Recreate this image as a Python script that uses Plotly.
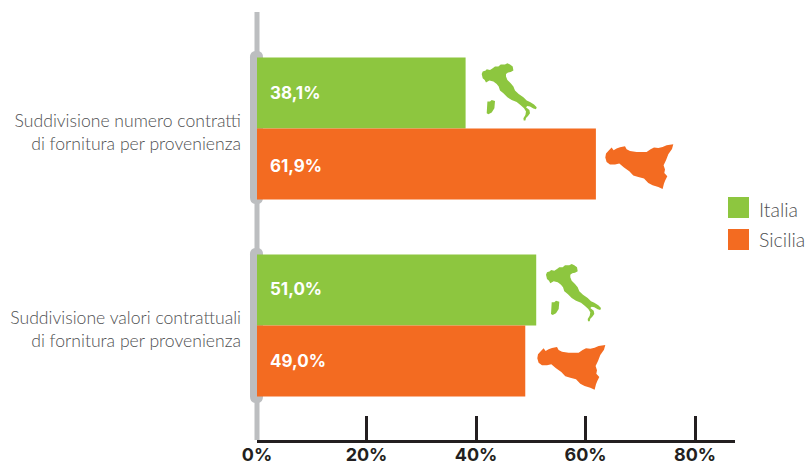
import plotly.graph_objects as go

# --- data ---
categories = ["Suddivisione numero contratti<br>di fornitura per provenienza",
              "Suddivisione valori contrattuali<br>di fornitura per provenienza"]
series_names = ["Italia", "Sicilia"]
italia_values = [38.1, 51.0]
sicilia_values = [61.9, 49.0]
tick_values = [0, 20, 40, 60, 80]
tick_labels = ["0%", "20%", "40%", "60%", "80%"]
value_labels_italia = ["38,1%", "51,0%"]
value_labels_sicilia = ["61,9%", "49,0%"]

# --- styles ---
GREEN, ORANGE, GREY, DARK, LABEL = "#8dc63f", "#f36b21", "#bcbec0", "#231f20", "#4f5052"
W, H = 805, 462
L, R, T, B = 257, 735, 12, 440
BOLD = "Inter"
LIGHT = "Lato"

# silhouettes, traced in px relative to an anchor
ITALY = [(35,72),(38,65),(47,62),(50,58),(60,60),(68,55),(75,50),(85,50),(92,44),(105,44),(112,40),(120,44),
         (128,50),(130,62),(122,66),(114,68),(108,72),(108,80),(112,90),(122,100),(130,110),(135,122),(146,132),
         (160,142),(170,152),(180,156),(192,164),(200,172),(198,178),(190,176),(180,170),(172,168),(168,172),
         (178,180),(180,190),(174,198),(168,204),(166,212),(161,212),(160,205),(166,195),(168,185),(162,175),
         (152,166),(140,156),(125,150),(112,142),(100,130),(90,122),(86,110),(80,102),(70,95),(58,92),(48,98),
         (44,90),(38,85)]
SARDINIA = [(52,155),(60,155),(65,150),(75,153),(73,175),(65,188),(55,193),(50,190)]
SICILY = [(406,322),(408,310),(415,302),(425,292),(431,300),(440,295),(450,291),(465,288),(470,297),(480,302),
          (500,305),(530,305),(542,297),(552,292),(565,293),(578,290),(590,285),(610,282),(606,296),(595,312),
          (588,330),(581,345),(585,358),(583,368),(592,378),(586,390),(582,400),(578,416),(565,410),(548,405),
          (535,398),(522,385),(505,380),(490,376),(478,363),(462,352),(448,340),(435,343),(420,343),(410,335)]


def outline(points, ox, oy):
    s = " ".join(("M" if i == 0 else "L") + f" {(x-ox)/3:.1f} {-(y-oy)/3:.1f}" for i, (x, y) in enumerate(points))
    return s + " Z"


def paper_x(px):
    return (px - L) / (R - L)


def paper_y(py):
    return (B - py) / (B - T)


def silhouette(paths, ax, ay, color):
    return dict(type="path", path=" ".join(paths), fillcolor=color, line=dict(width=0),
                xref="paper", yref="paper", xsizemode="pixel", ysizemode="pixel",
                xanchor=paper_x(ax), yanchor=paper_y(ay), layer="above")


def pill(top, bottom):
    r = 6.5
    h = bottom - top
    p = (f"M -6.5 {-r} Q -6.5 0 -1 0 L 1 0 Q 6.5 0 6.5 {-r} L 6.5 {-(h-r)} "
         f"Q 6.5 {-h} 1 {-h} L -1 {-h} Q -6.5 {-h} -6.5 {-(h-r)} Z")
    return dict(type="path", path=p, fillcolor=GREY, line=dict(width=0), xref="paper", yref="paper",
                xsizemode="pixel", ysizemode="pixel", xanchor=paper_x(256.5), yanchor=paper_y(top), layer="below")


# category centres sit 3.5 px below the seam between bars, so the two-line labels line up
STEP = 197
NUDGE = 3.5 / STEP
BAR = 0.36

fig = go.Figure()
fig.add_bar(name=series_names[0], y=categories, x=italia_values, orientation="h", marker_color=GREEN,
            marker_line_width=0, showlegend=False, width=BAR, offset=-BAR - NUDGE)
fig.add_bar(name=series_names[1], y=categories, x=sicilia_values, orientation="h", marker_color=ORANGE,
            marker_line_width=0, showlegend=False, width=BAR, offset=-NUDGE)

it = [outline(ITALY, 35, 40), outline(SARDINIA, 35, 40)]
si = [outline(SICILY, 406, 282)]
shapes = [
    dict(type="line", xref="paper", yref="paper", x0=paper_x(257), x1=paper_x(257), y0=paper_y(T), y1=0,
         line=dict(color=GREY, width=5), layer="below"),
    pill(51, 204), pill(248, 403),
    silhouette(it, 481.7, 63.3, GREEN),
    silhouette(si, 605.3, 144.3, ORANGE),
    silhouette(it, 546, 264, GREEN),
    silhouette(si, 537.3, 345, ORANGE),
    dict(type="rect", xref="paper", yref="paper", x0=paper_x(728), x1=paper_x(749), y0=paper_y(218), y1=paper_y(197),
         fillcolor=GREEN, line=dict(width=0)),
    dict(type="rect", xref="paper", yref="paper", x0=paper_x(728), x1=paper_x(749), y0=paper_y(250), y1=paper_y(229),
         fillcolor=ORANGE, line=dict(width=0)),
]

annotations = []
shifts = [(0, 2), (1, 0)]
for i, (a, b) in enumerate(zip(value_labels_italia, value_labels_sicilia)):
    for txt, off, dy in ((a, -BAR / 2 - NUDGE, shifts[i][0]), (b, BAR / 2 - NUDGE, shifts[i][1])):
        annotations.append(dict(x=0, y=i + off, xref="x", yref="y", text=txt, showarrow=False, xanchor="left",
                                xshift=11, yshift=-dy if i == 0 else dy,
                                font=dict(family=BOLD, size=17, color="white", weight=700)))
for name, py in zip(series_names, (209, 240)):
    annotations.append(dict(x=paper_x(759), y=paper_y(py), xref="paper", yref="paper", text=name, showarrow=False,
                            xanchor="left", xshift=-2, font=dict(family=LIGHT, size=19.5, color=LABEL, weight=300)))

fig.update_layout(
    width=W, height=H, autosize=False, paper_bgcolor="white", plot_bgcolor="rgba(0,0,0,0)",
    margin=dict(l=L, r=W - R, t=T, b=H - B, pad=0),
    shapes=shapes, annotations=annotations, showlegend=False,
    xaxis=dict(automargin=False, range=[0, (R - L) / 5.475], tickvals=tick_values, ticktext=tick_labels,
               ticks="inside", ticklen=24, ticklabelstandoff=-3,
               tickwidth=2.5, tickcolor=DARK, showline=True, linecolor=DARK, linewidth=2.5, showgrid=False,
               zeroline=False, tickfont=dict(family=BOLD, size=18, color=DARK, weight=700)),
    yaxis=dict(automargin=False, type="category", range=[(B - 132) / STEP, (T - 132) / STEP], showgrid=False,
               zeroline=False, showline=False, ticks="",
               ticklabelstandoff=15, tickfont=dict(family=LIGHT, size=17.6, color=LABEL, weight=300)),
)
fig.write_html("out.html", config={"displayModeBar": False}, post_script="document.body.style.margin='0';")
